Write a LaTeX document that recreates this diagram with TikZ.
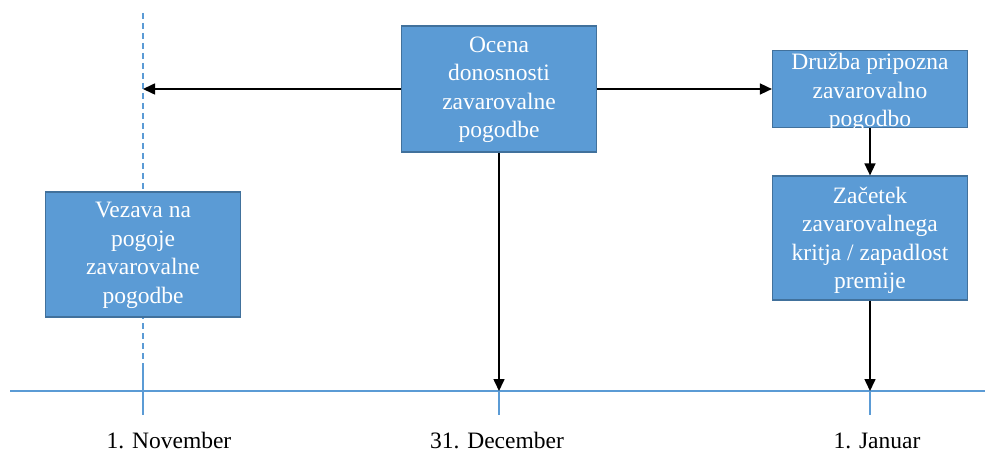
\documentclass[tikz,border=0pt]{standalone}
\usepackage{fontspec}
\setmainfont{Liberation Serif}
\usetikzlibrary{arrows.meta}
\definecolor{boxfill}{HTML}{5B9BD5}
\definecolor{boxline}{HTML}{41719C}
\definecolor{axisblue}{HTML}{5B9BD5}
\tikzset{
  box/.style={draw=boxline, fill=boxfill, line width=1.2pt, minimum width=195pt, inner sep=0pt},
  boxtext/.style={text=white, align=center, font=\fontsize{23.5}{28.5}\selectfont, inner sep=0pt},
  conn/.style={black, line width=1.6pt, -{Triangle[length=12pt,width=11pt]}},
  axisline/.style={axisblue, line width=1.5pt},
  dashline/.style={axisblue, line width=1.5pt, dash pattern=on 6pt off 4pt},
  datelabel/.style={font=\fontsize{23.5}{28}\selectfont, anchor=base, inner sep=0pt}
}
\begin{document}
\begin{tikzpicture}[x=1pt, y=-1pt]
\useasboundingbox (0,0) rectangle (987,454);
% time axis and ticks
\coordinate (axL) at (10,391);
\coordinate (axR) at (985,391);
\coordinate (novTop) at (143,13);
\coordinate (novMid) at (143,368);
\coordinate (novBot) at (143,415);
\coordinate (decAx) at (499,391);
\coordinate (decBot) at (499,415);
\coordinate (janAx) at (870,391);
\coordinate (janBot) at (870,415);
\coordinate (novArr) at (143,89);
\draw[axisline] (axL) -- (axR);
\draw[dashline] (novTop) -- (novMid);
\draw[axisline] (novMid) -- (novBot);
\draw[axisline] (decAx) -- (decBot);
\draw[axisline] (janAx) -- (janBot);
% boxes
\node[box, minimum height=126pt] (ocena) at (499,89) {};
\node[boxtext] (ocenaT) at (499,90) {Ocena\\donosnosti\\zavarovalne\\pogodbe};
\node[box, minimum height=77pt] (druzba) at (870,89) {};
\node[boxtext] (druzbaT) at (870,92.5) {Družba pripozna\\zavarovalno\\pogodbo};
\node[box, minimum height=124pt] (zacetek) at (870,238) {};
\node[boxtext] (zacetekT) at (870,240.5) {Začetek\\zavarovalnega\\kritja / zapadlost\\premije};
\node[box, minimum height=125pt] (vezava) at (143,254.5) {};
\node[boxtext] (vezavaT) at (143,255.5) {Vezava na\\pogoje\\zavarovalne\\pogodbe};
% connectors
\draw[conn] (ocena.west |- novArr) -- (novArr);
\draw[conn] (ocena.east) -- (druzba.west);
\draw[conn] (druzba.south) -- (zacetek.north);
\draw[conn] (ocena.south -| decAx) -- (decAx);
\draw[conn] (zacetek.south) -- (janAx);
% date labels
\node[datelabel] (nov) at (169,448) {1. November};
\node[datelabel] (dec) at (497,448) {31. December};
\node[datelabel] (jan) at (877,448) {1. Januar};
\end{tikzpicture}
\end{document}
